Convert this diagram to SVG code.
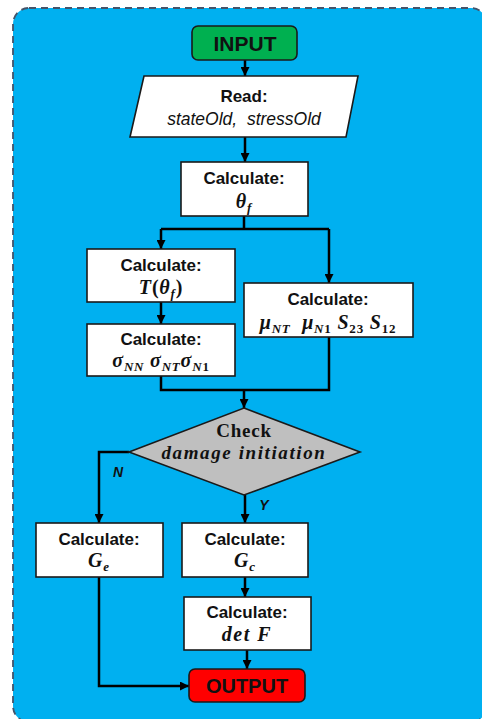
<svg xmlns="http://www.w3.org/2000/svg" width="482" height="719" viewBox="0 0 482 719">
<defs>
<marker id="arr" viewBox="0 0 10 10" refX="10" refY="5" markerWidth="9" markerHeight="9" markerUnits="userSpaceOnUse" orient="auto">
<path d="M0,0 L10,5 L0,10 z" fill="#000"/>
</marker>
<style>
.box{fill:#fff;stroke:#1a1a1a;stroke-width:1.6}
.lbl{font-family:"Liberation Sans",Arial,sans-serif;font-weight:bold;font-size:17px;fill:#111;text-anchor:middle}
.it{font-family:"Liberation Sans",Arial,sans-serif;font-style:italic;font-size:17.5px;fill:#111;text-anchor:middle}
.m{font-family:"Liberation Serif","DejaVu Serif",serif;font-weight:bold;font-style:italic;font-size:20px;fill:#111;text-anchor:middle;letter-spacing:0.8px}
.sub{font-size:13px}
.up{font-style:normal}
.con{fill:none;stroke:#000;stroke-width:2.5}
.arr{marker-end:url(#arr)}
.yn{font-family:"Liberation Sans",Arial,sans-serif;font-weight:bold;font-style:italic;font-size:14px;fill:#111;text-anchor:middle}
</style>
</defs>
<rect x="13" y="8" width="474" height="714" rx="16" fill="#00b0f0" stroke="#44546a" stroke-width="1.8" stroke-dasharray="7,5"/>

<g id="connectors">
<path class="con arr" d="M245,60 V76"/>
<path class="con arr" d="M245,137 V162"/>
<path class="con" d="M244,216 V229"/>
<path class="con" d="M161,229 H329"/>
<path class="con arr" d="M161,229 V249"/>
<path class="con arr" d="M329,229 V283"/>
<path class="con arr" d="M161,302 V324"/>
<path class="con" d="M161,376 V390 H329 V337"/>
<path class="con arr" d="M244,390 V408"/>
<path class="con arr" d="M129,452 H99 V523"/>
<path class="con arr" d="M245,495 V523"/>
<path class="con arr" d="M245,577 V597"/>
<path class="con arr" d="M247,650 V669"/>
<path class="con arr" d="M99,577 V686 H189"/>
<text class="yn" x="118" y="477">N</text>
<text class="yn" x="264" y="510">Y</text>
</g>

<g id="input">
<rect x="192" y="26" width="105" height="34" rx="6" fill="#00b050" stroke="#1a1a1a" stroke-width="1.6"/>
<text class="lbl" x="245" y="51" style="font-size:21px">INPUT</text>
</g>

<g id="read">
<polygon class="box" points="144,76 358,76 346,137 130,137"/>
<text class="lbl" x="244" y="102">Read:</text>
<text class="it" x="244" y="125" xml:space="preserve">stateOld,  stressOld</text>
</g>

<g id="calc-theta">
<rect class="box" x="181" y="162" width="127" height="54"/>
<text class="lbl" x="244" y="184">Calculate:</text>
<text class="m" x="244" y="208">θ<tspan class="sub" dy="4">f</tspan></text>
</g>

<g id="calc-T">
<rect class="box" x="87" y="249" width="148" height="53"/>
<text class="lbl" x="161" y="271">Calculate:</text>
<text class="m" x="161" y="294">T<tspan class="up">(</tspan>θ<tspan class="sub" dy="4">f</tspan><tspan class="up" dy="-4">)</tspan></text>
</g>

<g id="calc-sigma">
<rect class="box" x="87" y="324" width="148" height="52"/>
<text class="lbl" x="161" y="345">Calculate:</text>
<text class="m" x="161" y="367" xml:space="preserve">σ<tspan class="sub" dy="4">NN</tspan><tspan dy="-4"> σ</tspan><tspan class="sub" dy="4">NT</tspan><tspan dy="-4">σ</tspan><tspan class="sub" dy="4">N<tspan class="up">1</tspan></tspan></text>
</g>

<g id="calc-mu">
<rect class="box" x="244" y="283" width="169" height="54"/>
<text class="lbl" x="328" y="305">Calculate:</text>
<text class="m" x="328" y="329" xml:space="preserve">μ<tspan class="sub" dy="4">NT</tspan><tspan dy="-4">  μ</tspan><tspan class="sub" dy="4">N<tspan class="up">1</tspan></tspan><tspan dy="-4"> S</tspan><tspan class="sub up" dy="4">23</tspan><tspan dy="-4"> S</tspan><tspan class="sub up" dy="4">12</tspan></text>
</g>

<g id="check">
<polygon points="244,408 360,452 244,495 129,452" fill="#bfbfbf" stroke="#1a1a1a" stroke-width="1.6"/>
<text class="m up" x="244" y="437" style="font-size:19px">Check</text>
<text class="m" x="244" y="459" style="font-size:19px;letter-spacing:1.6px">damage initiation</text>
</g>

<g id="calc-Ge">
<rect class="box" x="36" y="523" width="127" height="54"/>
<text class="lbl" x="99" y="545">Calculate:</text>
<text class="m" x="99" y="567">G<tspan class="sub" dy="4">e</tspan></text>
</g>

<g id="calc-Gc">
<rect class="box" x="182" y="523" width="126" height="54"/>
<text class="lbl" x="245" y="545">Calculate:</text>
<text class="m" x="245" y="567">G<tspan class="sub" dy="4">c</tspan></text>
</g>

<g id="calc-detF">
<rect class="box" x="184" y="597" width="127" height="53"/>
<text class="lbl" x="247" y="618">Calculate:</text>
<text class="m" x="247" y="641" style="letter-spacing:1.5px">det F</text>
</g>

<g id="output">
<rect x="189" y="669" width="116" height="33" rx="6" fill="#ff0000" stroke="#1a1a1a" stroke-width="1.6"/>
<text class="lbl" x="247" y="693" style="font-size:20px">OUTPUT</text>
</g>
</svg>
